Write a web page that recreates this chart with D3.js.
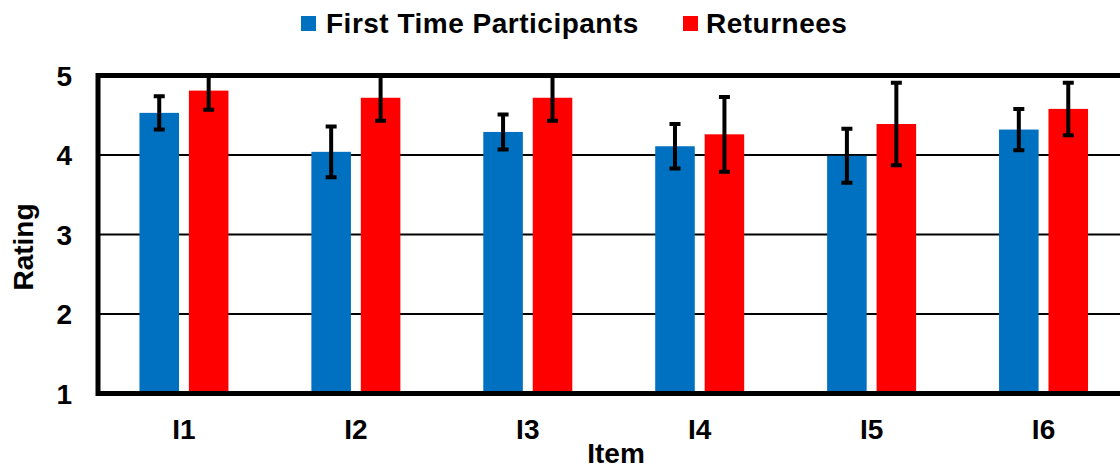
<!DOCTYPE html>
<html>
<head>
<meta charset="utf-8">
<script src="https://cdn.jsdelivr.net/npm/d3@7"></script>
<style>
  html, body { margin: 0; padding: 0; background: #fff; }
  svg { display: block; font-family: 'Liberation Sans', Arial, sans-serif; font-weight: bold; }
</style>
</head>
<body>
<div id="chart"></div>
<script>
  // chart data
  const items = ['I1', 'I2', 'I3', 'I4', 'I5', 'I6'];
  const seriesNames = ['First Time Participants', 'Returnees'];
  const firstTime = [4.53, 4.04, 4.29, 4.11, 3.99, 4.32];
  const firstTimeErr = [0.21, 0.32, 0.22, 0.28, 0.34, 0.26];
  const returnees = [4.81, 4.72, 4.72, 4.26, 4.39, 4.58];
  const returneesErr = [0.24, 0.29, 0.29, 0.47, 0.52, 0.33];
  const yTicks = [1, 2, 3, 4, 5];
  const colors = ['#0070C0', '#FF0000'];

  const width = 1120,
    height = 468;
  // plot area runs past the right edge of the picture, as in the original
  const plotLeft = 98,
    plotRight = 1129.5,
    plotTop = 75.5,
    plotBottom = 393.5;

  const svg = d3
    .select('#chart')
    .append('svg')
    .attr('width', width)
    .attr('height', height);

  let xScale = d3.scaleBand().domain(items).range([plotLeft, plotRight]);
  let xInner = d3
    .scaleBand()
    .domain(seriesNames)
    .range([-44.5, 44.5])
    .paddingInner(0.2);
  let yScale = d3.scaleLinear().domain([1, 5]).range([plotBottom, plotTop]);

  // build rows from the arrays
  const rows = [];
  items.forEach((item, i) => {
    rows.push({ item, series: seriesNames[0], value: firstTime[i], err: firstTimeErr[i], color: colors[0] });
    rows.push({ item, series: seriesNames[1], value: returnees[i], err: returneesErr[i], color: colors[1] });
  });

  svg
    .append('defs')
    .append('clipPath')
    .attr('id', 'plot-clip')
    .append('rect')
    .attr('x', plotLeft)
    .attr('y', plotTop)
    .attr('width', plotRight - plotLeft)
    .attr('height', plotBottom - plotTop);

  // gridlines
  svg
    .append('g')
    .selectAll('line')
    .data(yTicks.filter((t) => t > 1 && t < 5))
    .join('line')
    .attr('x1', plotLeft)
    .attr('x2', plotRight)
    .attr('y1', (d) => yScale(d))
    .attr('y2', (d) => yScale(d))
    .attr('stroke', '#000')
    .attr('stroke-width', 2);

  // bars
  svg
    .append('g')
    .selectAll('rect')
    .data(rows)
    .join('rect')
    .attr('x', (d) => xScale(d.item) + xScale.bandwidth() / 2 + xInner(d.series))
    .attr('width', xInner.bandwidth())
    .attr('y', (d) => yScale(d.value))
    .attr('height', (d) => yScale(1) - yScale(d.value))
    .attr('fill', (d) => d.color);

  // error bars (clipped at the frame)
  const errG = svg.append('g').attr('clip-path', 'url(#plot-clip)');
  const errBars = errG
    .selectAll('g')
    .data(rows)
    .join('g')
    .attr('transform', (d) => {
      const cx = xScale(d.item) + xScale.bandwidth() / 2 + xInner(d.series) + xInner.bandwidth() / 2;
      return 'translate(' + cx + ',0)';
    });
  errBars
    .append('line')
    .attr('x1', 0)
    .attr('x2', 0)
    .attr('y1', (d) => yScale(d.value + d.err))
    .attr('y2', (d) => yScale(d.value - d.err))
    .attr('stroke', '#000')
    .attr('stroke-width', 4);
  errBars
    .selectAll('line.cap')
    .data((d) => [d.value + d.err, d.value - d.err])
    .join('line')
    .attr('class', 'cap')
    .attr('x1', -5.5)
    .attr('x2', 5.5)
    .attr('y1', (v) => yScale(v))
    .attr('y2', (v) => yScale(v))
    .attr('stroke', '#000')
    .attr('stroke-width', 4);

  // frame
  svg
    .append('rect')
    .attr('x', plotLeft)
    .attr('y', plotTop)
    .attr('width', plotRight - plotLeft)
    .attr('height', plotBottom - plotTop)
    .attr('fill', 'none')
    .attr('stroke', '#000')
    .attr('stroke-width', 5);

  // y tick labels
  svg
    .append('g')
    .selectAll('text')
    .data(yTicks)
    .join('text')
    .attr('x', 72)
    .attr('y', (d) => yScale(d) + 10)
    .attr('text-anchor', 'end')
    .attr('font-size', 28)
    .text((d) => d);

  // x tick labels
  svg
    .append('g')
    .selectAll('text')
    .data(items)
    .join('text')
    .attr('x', (d) => xScale(d) + xScale.bandwidth() / 2)
    .attr('y', 439)
    .attr('text-anchor', 'middle')
    .attr('font-size', 28)
    .text((d) => d);

  // axis titles
  svg
    .append('text')
    .attr('transform', 'translate(32.5,247) rotate(-90)')
    .attr('text-anchor', 'middle')
    .attr('font-size', 28)
    .text('Rating');
  svg
    .append('text')
    .attr('x', 616)
    .attr('y', 463)
    .attr('text-anchor', 'middle')
    .attr('font-size', 28)
    .text('Item');

  // legend
  const legendX = [301, 683];
  const legend = svg
    .append('g')
    .selectAll('g')
    .data(seriesNames)
    .join('g')
    .attr('transform', (d, i) => 'translate(' + legendX[i] + ',0)');
  legend
    .append('rect')
    .attr('x', 0)
    .attr('y', 16)
    .attr('width', 15)
    .attr('height', 15)
    .attr('fill', (d, i) => colors[i]);
  legend
    .append('text')
    .attr('x', (d, i) => (i === 0 ? 25 : 23))
    .attr('y', 32.5)
    .attr('font-size', 28)
    .attr('letter-spacing', 0.5)
    .text((d) => d);
</script>
</body>
</html>
